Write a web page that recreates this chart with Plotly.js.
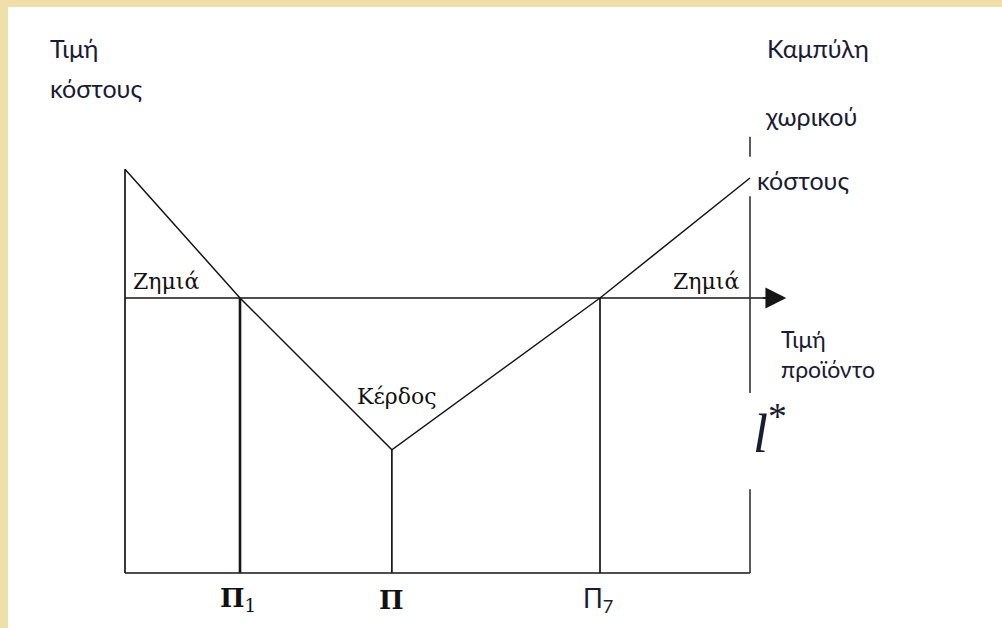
<!DOCTYPE html>
<html>
<head>
<meta charset="utf-8">
<script src="https://cdn.plot.ly/plotly-3.0.1.min.js"></script>
<style>
  html, body { margin: 0; padding: 0; background: #f1dfa9; }
  #plot { width: 1002px; height: 628px; }
</style>
</head>
<body>
<div id="plot"></div>
<script>
// Market area edges (location axis)
var edgeLeft = 0;
var edgeRight = 10;

// Spatial cost curve (location, cost)
var costX = [0, 1.84, 4.27, 7.6, 10];
var costY = [6.46, 4.4, 1.97, 4.4, 6.32];

// Product price level and where its arrow ends
var priceLevel = 4.4;
var priceEnd = 10.58;

// Marked locations and their labels
var markX = [1.84, 4.27, 7.6];
var markTop = [4.4, 1.97, 4.4];
var markLabels = ['<b>Π</b><sub>1</sub>', '<b>Π</b>', 'Π<sub>7</sub>'];

// Right edge is broken where the labels sit
var rightEdgeY = [6.98, 6.66, null, 6.03, 2.88, null, 1.34, 0];

var ink = '#151515';
var textInk = '#1b1b33';
var sans = 'Lato, Roboto, sans-serif';
var serif = '"DejaVu Serif", "Liberation Serif", serif';

var traces = [];

// cost curve
traces.push({
    x: costX, y: costY, mode: 'lines', type: 'scatter',
    line: { color: ink, width: 1.5 }
});

// price line
traces.push({
    x: [edgeLeft, priceEnd - 0.2], y: [priceLevel, priceLevel],
    mode: 'lines', type: 'scatter',
    line: { color: ink, width: 1.7 }
});

// base line
traces.push({
    x: [edgeLeft, edgeRight], y: [0, 0], mode: 'lines', type: 'scatter',
    line: { color: ink, width: 1.7 }
});

// left edge
traces.push({
    x: [edgeLeft, edgeLeft], y: [0, costY[0]], mode: 'lines', type: 'scatter',
    line: { color: ink, width: 1.7 }
});

// right edge (segmented)
traces.push({
    x: rightEdgeY.map(function () { return edgeRight; }), y: rightEdgeY,
    mode: 'lines', type: 'scatter', connectgaps: false,
    line: { color: '#333', width: 1.6 }
});

// verticals at marked locations
for (var i = 0; i < markX.length; i++) {
    traces.push({
        x: [markX[i], markX[i]], y: [0, markTop[i]], mode: 'lines', type: 'scatter',
        line: { color: ink, width: i === 0 ? 2.6 : 1.7 }
    });
}

var annotations = [];

// arrow head on price line
annotations.push({
    x: priceEnd, y: priceLevel, ax: priceEnd - 0.4, ay: priceLevel,
    xref: 'x', yref: 'y', axref: 'x', ayref: 'y',
    showarrow: true, arrowhead: 2, arrowsize: 2.6, arrowwidth: 1.6,
    arrowcolor: ink, text: ''
});

function label(txt, x, y, font, anchor, xshift) {
    annotations.push({
        text: txt, x: x, y: y, xref: 'x', yref: 'y', showarrow: false,
        xanchor: anchor || 'left', yanchor: 'middle', xshift: xshift || 0,
        font: font
    });
}

var sideFont = { family: sans, size: 25, color: textInk };
label('Τιμή', -1.232, 8.4, sideFont);
label('κόστους', -1.232, 7.76, sideFont);
label('Καμπύλη', 10.24, 8.4, sideFont);
label('χωρικού', 10.21, 7.31, sideFont);
label('κόστους', 10.08, 6.29, sideFont);

var priceFont = { family: sans, size: 23, color: textInk };
label('Τιμή', 10.46, 3.74, priceFont);
label('προϊόντο', 10.46, 3.26, priceFont);
label('<i>l</i><sup>*</sup>', 10.02, 2.3,
      { family: '"Liberation Serif", serif', size: 54, color: textInk });

var serifFont = { family: serif, size: 22, color: '#111' };
label('Ζημιά', 0.656, 4.67, serifFont, 'center');
label('Ζημιά', 9.3, 4.67, serifFont, 'center');
label('Κέρδος', 4.35, 2.83, serifFont, 'center');

for (var j = 0; j < markX.length; j++) {
    var f = j === 2 ? { family: sans, size: 26, color: textInk }
                    : { family: serif, size: 26, color: '#111' };
    label(markLabels[j], markX[j], -0.43, f, 'center', j === 1 ? 0 : -2);
}

var layout = {
    width: 1002,
    height: 628,
    margin: { l: 8, r: 0, t: 7, b: 0 },
    paper_bgcolor: '#f1dfa9',
    plot_bgcolor: '#ffffff',
    showlegend: false,
    hovermode: false,
    xaxis: { range: [-1.872, 14.032], visible: false, fixedrange: true },
    yaxis: { range: [-0.88, 9.056], visible: false, fixedrange: true },
    annotations: annotations
};

Plotly.newPlot('plot', traces, layout, { displayModeBar: false, staticPlot: true });
</script>
</body>
</html>
